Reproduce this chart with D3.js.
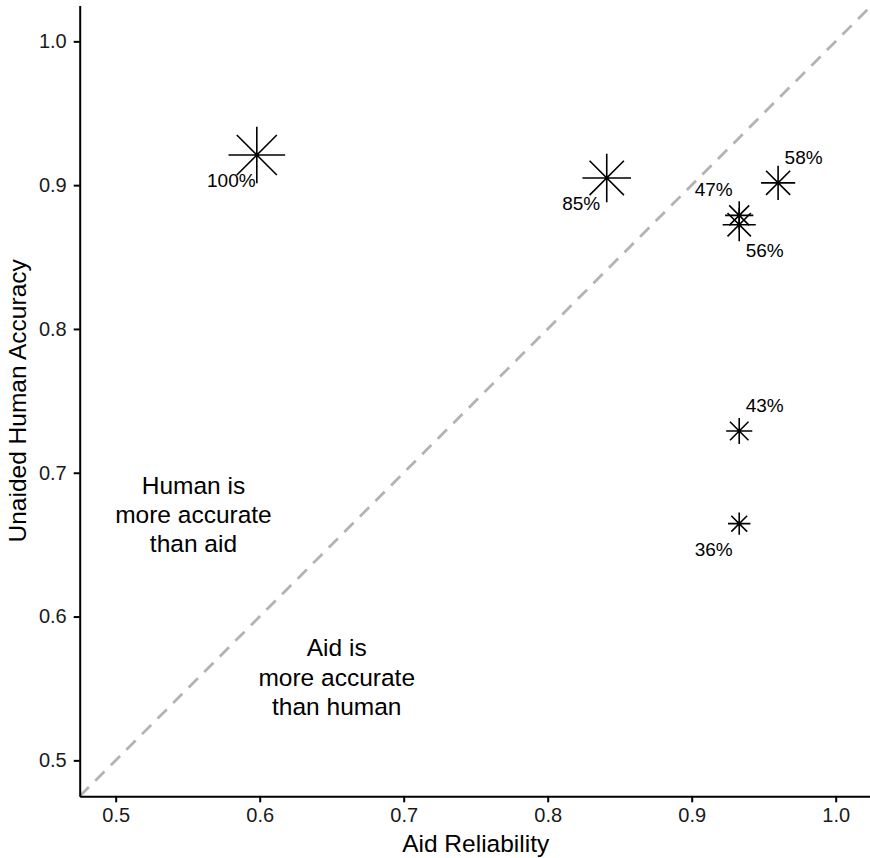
<!DOCTYPE html>
<html>
<head>
<meta charset="utf-8">
<script src="https://cdn.jsdelivr.net/npm/d3@7"></script>
<style>
  body { margin: 0; background: #fff; }
  svg { display: block; font-family: "Liberation Sans", Arial, sans-serif; }
</style>
</head>
<body>
<svg id="chart"></svg>
<script>
// data
const reliability = [0.598, 0.841, 0.960, 0.933, 0.933, 0.933, 0.933];
const accuracy = [0.921, 0.905, 0.9016, 0.879, 0.8725, 0.729, 0.6646];
const percent = [100, 85, 58, 47, 56, 43, 36];
// which side of the star each label sits on (x sign, y sign in screen space)
const labelSide = [[-1, 1], [-1, 1], [1, -1], [-1, -1], [1, 1], [1, -1], [-1, 1]];
const tickValues = [0.5, 0.6, 0.7, 0.8, 0.9, 1.0];
const notes = [
    { x: 0.554, y: 0.671, lines: ["Human is", "more accurate", "than aid"] },
    { x: 0.6535, y: 0.558, lines: ["Aid is", "more accurate", "than human"] }
];

const W = 870;
const H = 858;
const margin = { top: 5.4, right: -1.7, bottom: 61.7, left: 79.7 };

const svg = d3.select("#chart").attr("width", W).attr("height", H);

const x = d3.scaleLinear()
    .domain([0.475, 1.025])
    .range([margin.left, W - margin.right]);
const y = d3.scaleLinear()
    .domain([0.475, 1.025])
    .range([H - margin.bottom, margin.top]);
// star radius grows with the percentage
const size = d3.scaleLinear().domain([36, 100]).range([11.2, 28.3]);

// diagonal y = x
svg.append("line")
    .attr("x1", x(0.475))
    .attr("y1", y(0.475))
    .attr("x2", x(1.025))
    .attr("y2", y(1.025))
    .attr("stroke", "#b3b3b3")
    .attr("stroke-width", 2.8)
    .attr("stroke-dasharray", "13,9");

// axes
const xAxis = svg.append("g")
    .attr("transform", `translate(0,${y(0.475)})`)
    .call(d3.axisBottom(x).tickValues(tickValues).tickFormat(d3.format(".1f"))
        .tickSize(6).tickSizeOuter(0).tickPadding(6));
const yAxis = svg.append("g")
    .attr("transform", `translate(${x(0.475)},0)`)
    .call(d3.axisLeft(y).tickValues(tickValues).tickFormat(d3.format(".1f"))
        .tickSize(6).tickSizeOuter(0).tickPadding(7));

[xAxis, yAxis].forEach(g => {
    g.select(".domain").attr("stroke", "#000").attr("stroke-width", 2);
    g.selectAll(".tick line").attr("stroke", "#000").attr("stroke-width", 2);
    g.selectAll(".tick text")
        .attr("fill", "#1a1a1a")
        .style("font-size", "20px")
        .style("font-family", "Liberation Sans, Arial, sans-serif");
});

// axis titles
svg.append("text")
    .attr("x", (x.range()[0] + x.range()[1]) / 2)
    .attr("y", 851.5)
    .attr("text-anchor", "middle")
    .style("font-size", "24.5px")
    .text("Aid Reliability");

svg.append("text")
    .attr("transform", `translate(25.5,${(y.range()[0] + y.range()[1]) / 2}) rotate(-90)`)
    .attr("text-anchor", "middle")
    .style("font-size", "24.5px")
    .text("Unaided Human Accuracy");

// region notes
notes.forEach(n => {
    const t = svg.append("text")
        .attr("x", x(n.x))
        .attr("y", y(n.y))
        .attr("text-anchor", "middle")
        .style("font-size", "24.5px");
    n.lines.forEach((line, i) => {
        t.append("tspan")
            .attr("x", x(n.x))
            .attr("dy", i === 0 ? `${0.35 - 1.2}em` : "1.2em")
            .text(line);
    });
});

// asterisk markers
const pts = percent.map((p, i) => ({
    cx: x(reliability[i]),
    cy: y(accuracy[i]),
    r: size(p),
    pct: p,
    side: labelSide[i]
}));

const star = d => {
    const p = d3.path();
    [0, 45, 90, 135].forEach(a => {
        const rad = a * Math.PI / 180;
        const dx = Math.cos(rad) * d.r;
        const dy = Math.sin(rad) * d.r;
        p.moveTo(d.cx - dx, d.cy - dy);
        p.lineTo(d.cx + dx, d.cy + dy);
    });
    return p.toString();
};

svg.append("g")
    .selectAll("path")
    .data(pts)
    .join("path")
    .attr("d", star)
    .attr("fill", "none")
    .attr("stroke", "#000")
    .attr("stroke-width", 1.6);

svg.append("g")
    .selectAll("text")
    .data(pts)
    .join("text")
    .attr("x", d => d.cx + d.side[0] * 25.5)
    .attr("y", d => d.cy + d.side[1] * 25.5)
    .attr("text-anchor", "middle")
    .attr("dominant-baseline", "central")
    .style("font-size", "19px")
    .text(d => d.pct + "%");
</script>
</body>
</html>
